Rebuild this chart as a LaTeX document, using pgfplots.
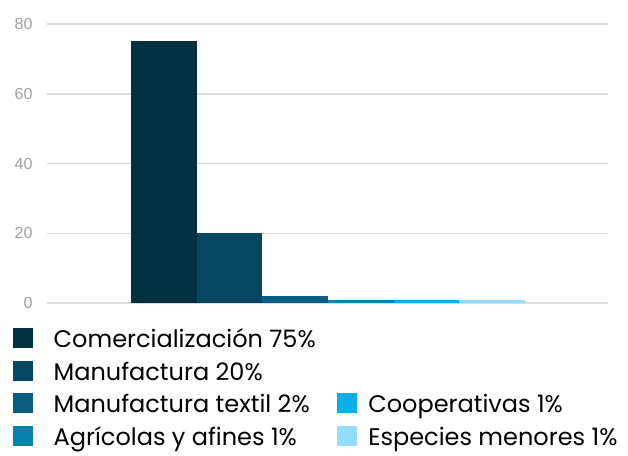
\documentclass[border=0pt]{standalone}
\usepackage{fontspec}
\usepackage{pgfplots}
\pgfplotsset{compat=1.18}
\setmainfont{Poppins}
\newfontfamily\tickfont{Liberation Sans}
\definecolor{c1}{HTML}{03303F}
\definecolor{c2}{HTML}{05475F}
\definecolor{c3}{HTML}{075E80}
\definecolor{c4}{HTML}{0981AF}
\definecolor{c5}{HTML}{0AAEE8}
\definecolor{c6}{HTML}{92DFFD}
\definecolor{gridc}{HTML}{DCDCDC}
\definecolor{tickc}{HTML}{A0A0A0}
\begin{document}
\begin{tikzpicture}
\path[use as bounding box] (-47pt,-152pt) rectangle (581pt,303pt);
\begin{axis}[
  at={(0pt,0pt)}, anchor=south west,
  scale only axis, width=561pt, height=279pt,
  xmin=0, xmax=561, ymin=0, ymax=80,
  ytick={0,20,40,60,80}, xtick=\empty,
  ymajorgrids, grid style={gridc, line width=1.5pt},
  axis line style={draw=none}, major tick length=0pt,
  yticklabel style={font=\tickfont\fontsize{16}{16}\selectfont, text=tickc, /pgf/number format/assume math mode=true, xshift=-11pt},
  ybar, bar width=65.6,
  legend columns=2,
  legend cell align=left,
  legend image code/.code={\path[#1,draw=none] (0pt,-9pt) rectangle (20pt,11pt);},
  legend style={at={(0,0)}, anchor=north west, xshift=-37pt, yshift=-21.5pt, draw=none, fill=none,
    font=\fontsize{24}{24}\selectfont, row sep=8.8pt, column sep=4pt},
]
\addplot[fill=c1, draw=none, bar shift=0, forget plot] coordinates {(117,75)};
\addplot[fill=c2, draw=none, bar shift=0, forget plot] coordinates {(182.6,20)};
\addplot[fill=c3, draw=none, bar shift=0, forget plot] coordinates {(248.2,2)};
\addplot[fill=c4, draw=none, bar shift=0, forget plot] coordinates {(313.8,1)};
\addplot[fill=c5, draw=none, bar shift=0, forget plot] coordinates {(379.4,1)};
\addplot[fill=c6, draw=none, bar shift=0, forget plot] coordinates {(445,1)};
\addlegendimage{fill=c1}\addlegendentry{\rule{14.5pt}{0pt}Comercialización 75\%\rule{15pt}{0pt}}
\addlegendimage{empty legend}\addlegendentry{}
\addlegendimage{fill=c2}\addlegendentry{\rule{14.5pt}{0pt}Manufactura 20\%}
\addlegendimage{empty legend}\addlegendentry{}
\addlegendimage{fill=c3}\addlegendentry{\rule{14.5pt}{0pt}Manufactura textil 2\%}
\addlegendimage{fill=c5}\addlegendentry{\rule{5.5pt}{0pt}Cooperativas 1\%}
\addlegendimage{fill=c4}\addlegendentry{\rule{14.5pt}{0pt}Agrícolas y afines 1\%}
\addlegendimage{fill=c6}\addlegendentry{\rule{5.5pt}{0pt}Especies menores 1\%}
\end{axis}
\end{tikzpicture}
\end{document}
